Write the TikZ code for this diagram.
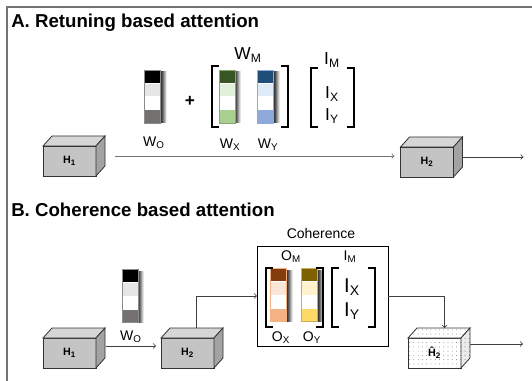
\documentclass[tikz,border=0pt]{standalone}
\usepackage{fontspec}
\setmainfont{Liberation Sans}
\usetikzlibrary{positioning}
\usetikzlibrary{calc,patterns.meta}

\definecolor{boxFront}{HTML}{C4C4C4}
\definecolor{boxTop}{HTML}{D6D6D6}
\definecolor{boxSide}{HTML}{A3A3A3}
\definecolor{grayDark}{HTML}{767171}
\definecolor{grayLight}{HTML}{E7E6E6}
\definecolor{greenDark}{HTML}{375623}
\definecolor{greenLight}{HTML}{E2EFDA}
\definecolor{greenMid}{HTML}{A9D08E}
\definecolor{blueDark}{HTML}{1F4E79}
\definecolor{blueLight}{HTML}{DEEBF7}
\definecolor{blueMid}{HTML}{8EA9DB}
\definecolor{orangeDark}{HTML}{843C0C}
\definecolor{orangeLight}{HTML}{FBE5D6}
\definecolor{orangeMid}{HTML}{F4B183}
\definecolor{goldDark}{HTML}{7F6000}
\definecolor{goldLight}{HTML}{FFF2CC}
\definecolor{goldMid}{HTML}{FFD966}

% weight column: name, x, y, four cell colours, edge colour
\newcommand{\wcolumn}[8]{%
  \foreach \s/\o in {1/0.3,2/0.3,3/0.25,4/0.2,5/0.15,6/0.1}
    \fill[black,opacity=\o] (#2-8+\s,#3-25.5) rectangle (#2+8+\s,#3+26.5);
  \fill[#4,draw=white,line width=0.5pt] (#2-8,#3-26.5) rectangle (#2+8,#3-13.25);
  \fill[#5,draw=white,line width=0.5pt] (#2-8,#3-13.25) rectangle (#2+8,#3);
  \fill[#6,draw=white,line width=0.5pt] (#2-8,#3) rectangle (#2+8,#3+13.25);
  \fill[#7,draw=white,line width=0.5pt] (#2-8,#3+13.25) rectangle (#2+8,#3+26.5);
  \node[wbar,draw=#8] (#1) at (#2,#3) {};
}

\begin{document}
\begin{tikzpicture}[x=0.75pt,y=-0.75pt,
                    cube/.style={rectangle,
                                 draw=black!80, fill=boxFront,
                                 line width=0.6pt,
                                 inner sep=0mm, outer sep=0,
                                 minimum width=39.75pt, minimum height=22.5pt,
                                 font=\fontsize{8}{9}\selectfont\bfseries
                                },
                    dots/.style={pattern={Dots[distance=3.2pt,radius=0.35pt]},
                                 pattern color=black!50
                                },
                    dotcube/.style={cube,
                                    fill=none,
                                    preaction={fill=white},
                                    dots
                                   },
                    wbar/.style={rectangle,
                                 inner sep=0mm, outer sep=0,
                                 line width=0.5pt,
                                 minimum width=12pt, minimum height=39.75pt
                                },
                    conn/.style={line width=0.6pt,
                                 draw=black!75,
                                 ->,
                                 >=to
                                },
                    brk/.style={line width=1.7pt, line cap=rect},
                    title/.style={anchor=base west, inner sep=0,
                                  font=\fontsize{14}{16}\selectfont\bfseries},
                    big/.style={font=\fontsize{13}{15}\selectfont, inner sep=0},
                    lab/.style={font=\fontsize{10.5}{12}\selectfont, inner sep=0}
                   ]
\useasboundingbox (0,0) rectangle (532,381);
\draw[black!55,line width=1pt] (7,381) -- (7,7) -- (532,7);

% retuning
\node[title] (titleA) at (11,27.5) {A. Retuning based attention};

\node[cube] (h1a) at (69.5,161) {H\textsubscript{1}};
\node[cube] (h2a) at (427,162) {H\textsubscript{2}};

\wcolumn{woa}{152.5}{96.5}{black}{grayLight}{white}{grayDark}{black!45}
\wcolumn{wxa}{227}{96.5}{greenDark}{greenLight}{white}{greenMid}{greenMid!80!black}
\wcolumn{wya}{265.5}{96.5}{blueDark}{blueLight}{white}{blueMid}{blueMid}

\node[big] (plus) at (190,101) {\textbf{+}};
\draw[brk] (218,66) -| (212,127) -- ++(6,0);
\draw[brk] (282,66) -| (288,127) -- ++(-6,0);
\node[big] (wm) at (248,55) {W\textsubscript{M}};
\node[lab] at (154,143) {W\textsubscript{O}};
\node[lab] at (230,145) {W\textsubscript{X}};
\node[lab] at (268,145) {W\textsubscript{Y}};

\draw[brk] (317,68) -| (311,127) -- ++(6,0);
\draw[brk] (348,68) -| (354,127) -- ++(-6,0);
\node[big] (ima) at (332,60) {I\textsubscript{M}};
\node[big] (ixa) at (332,94) {I\textsubscript{X}};
\node[big] (iya) at (332,116) {I\textsubscript{Y}};

\draw[conn,draw=black!55] ([shift={(19,-5)}]h1a.east) -- ([shift={(-6,-6)}]h2a.west);
\draw[conn] ([shift={(9,-5)}]h2a.east) -- ++(61,0);

% coherence
\node[title] (titleB) at (11,217) {B. Coherence based attention};

\node[cube] (h1b) at (69.5,353) {H\textsubscript{1}};
\node[cube] (h2b) at (187.5,353) {H\textsubscript{2}};
\node[dotcube] (h2c) at (434.5,353) {\^{H}\textsubscript{2}};

\wcolumn{wob}{130}{296}{black}{grayLight}{white}{grayDark}{black!45}
\node[lab] at (131,337) {W\textsubscript{O}};

\node[draw=black,line width=0.7pt,inner sep=0,outer sep=0,
      minimum width=98.25pt,minimum height=75pt] (coh) at (322.5,296) {};
\node[lab] at (321,233) {Coherence};

\wcolumn{oxb}{278.5}{295}{orangeDark}{orangeLight}{white}{orangeMid}{orangeMid}
\wcolumn{oyb}{309.5}{295}{goldDark}{goldLight}{white}{goldMid}{goldMid!80!black}
\draw[brk] (272,268) -| (266,327) -- ++(6,0);
\draw[brk] (317,268) -| (323,327) -- ++(-6,0);
\draw[brk] (338,268) -| (332,327) -- ++(6,0);
\draw[brk] (369,268) -| (375,327) -- ++(-6,0);
\node[lab] (omb) at (291,257) {O\textsubscript{M}};
\node[lab] (imb) at (350,257) {I\textsubscript{M}};
\node[lab] at (281,338) {O\textsubscript{X}};
\node[lab] at (312,338) {O\textsubscript{Y}};
\node[big,font=\fontsize{15}{17}\selectfont] (ixb) at (352,287) {I\textsubscript{X}};
\node[big,font=\fontsize{15}{17}\selectfont] (iyb) at (352,311) {I\textsubscript{Y}};

\draw[conn] (h1b.east) ++(10,-7) -- ([shift={(-5,-7)}]h2b.west);
\draw[conn] ([shift={(9,-10)}]h2b.north) |- (coh.west);
\draw[conn] (coh.east) -| ([shift={(10,-10)}]h2c.north);
\draw[conn] ([shift={(9,-9)}]h2c.east) -- ++(53,0);

% faces of the boxes
\foreach \n in {h1a,h2a,h1b,h2b}{
  \draw[fill=boxTop,draw=black!80,line width=0.6pt] (\n.north west) -- ++(9,-10) -- ([shift={(9,-10)}]\n.north east) -- (\n.north east) -- cycle;
  \draw[fill=boxSide,draw=black!80,line width=0.6pt] (\n.north east) -- ++(9,-10) -- ([shift={(9,-10)}]\n.south east) -- (\n.south east) -- cycle;
}
\draw[preaction={fill=white},dots,draw=black!80,line width=0.6pt]
  (h2c.north west) -- ++(9,-10) -- ([shift={(9,-10)}]h2c.north east) -- (h2c.north east) -- cycle;
\draw[preaction={fill=black!8},dots,pattern color=black!65,draw=black!80,line width=0.6pt]
  (h2c.north east) -- ++(9,-10) -- ([shift={(9,-10)}]h2c.south east) -- (h2c.south east) -- cycle;
\end{tikzpicture}
\end{document}
